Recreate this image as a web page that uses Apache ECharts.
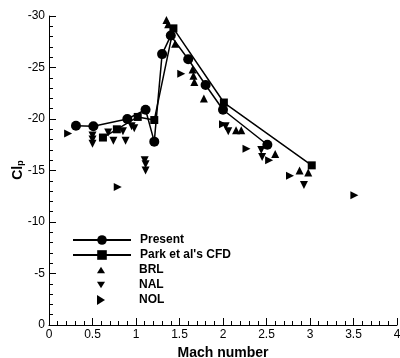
<!DOCTYPE html>
<html><head><meta charset="utf-8">
<script src="https://cdn.jsdelivr.net/npm/echarts@6/dist/echarts.min.js"></script>
<style>html,body{margin:0;padding:0;background:#fff}#c{width:400px;height:358px}</style>
</head><body><div id="c"></div>
<script>
var xTicks = [0, 0.5, 1, 1.5, 2, 2.5, 3, 3.5, 4];
var yTicks = [-30, -25, -20, -15, -10, -5, 0];
var presentX = [0.31, 0.51, 0.90, 1.11, 1.21, 1.30, 1.40, 1.60, 1.80, 2.00, 2.51];
var presentY = [-19.35, -19.3, -20.0, -20.9, -17.8, -26.3, -28.1, -25.8, -23.3, -20.9, -17.5];
var parkX = [0.62, 0.78, 1.02, 1.21, 1.43, 2.01, 3.02];
var parkY = [-18.2, -19.0, -20.2, -19.9, -28.8, -21.6, -15.5];
var brlX = [1.35, 1.37, 1.45, 1.65, 1.66, 1.67, 1.78, 2.15, 2.21, 2.60, 2.88, 2.98];
var brlY = [-29.6, -29.2, -27.3, -24.8, -24.2, -23.6, -22.0, -18.9, -18.9, -16.6, -15.0, -14.8];
var nalX = [0.50, 0.50, 0.50, 0.68, 0.74, 0.85, 0.88, 0.95, 0.98, 1.10, 1.11, 1.11, 2.03, 2.06, 2.44, 2.45, 2.93];
var nalY = [-18.4, -18.0, -17.6, -18.7, -17.9, -18.8, -17.9, -19.3, -19.1, -16.0, -15.6, -15.0, -19.3, -18.8, -17.0, -16.3, -13.6];
var nolX = [0.22, 0.79, 1.52, 2.00, 2.27, 2.53, 2.77, 3.51];
var nolY = [-18.6, -13.4, -24.4, -19.5, -17.1, -16.0, -14.5, -12.6];

function pairs(xs, ys) { return xs.map(function (x, i) { return [x, ys[i]]; }); }
var FONT = 'Liberation Sans, Arial, sans-serif';
var legendText = {fontFamily: FONT, fontWeight: 'bold', fontSize: 12, color: '#000'};
var black = {color: '#000', opacity: 1};
var chart = echarts.init(document.getElementById('c'), null, {renderer: 'canvas'});
chart.setOption({
  animation: false,
  backgroundColor: '#fff',
  grid: {left: 49, right: 3, top: 16, bottom: 33, outerBoundsMode: 'none', containLabel: false},
  graphic: [{
    type: 'text', x: 18, y: 170, rotation: Math.PI / 2,
    style: {
      text: '{a|Cl}{b|p}', align: 'center', verticalAlign: 'middle',
      rich: {
        a: {fontFamily: FONT, fontWeight: 'bold', fontSize: 14, fill: '#000', color: '#000'},
        b: {fontFamily: FONT, fontWeight: 'bold', fontSize: 9, fill: '#000', color: '#000', verticalAlign: 'bottom', padding: [6, 0, 0, 0]}
      }
    }
  }],
  legend: [{
    orient: 'vertical', left: 67, top: 229,
    itemWidth: 58, itemHeight: 12, itemGap: 3,
    textStyle: Object.assign({padding: [0, 0, 0, 4]}, legendText),
    data: ['Present', "Park et al's CFD"]
  }, {
    orient: 'vertical', left: 92, top: 259,
    itemWidth: 8, itemHeight: 12, itemGap: 3,
    itemStyle: black,
    textStyle: Object.assign({padding: [0, 0, 0, 29]}, legendText),
    data: [
      {name: 'BRL', icon: 'path://M5,0 L10,8 L0,8 Z', itemStyle: black},
      {name: 'NAL', icon: 'path://M0,0 L10,0 L5,8 Z', itemStyle: black},
      {name: 'NOL', icon: 'path://M0,0 L8,5 L0,10 Z', itemStyle: black}
    ]
  }],
  xAxis: {
    type: 'value', min: 0, max: 4, interval: 0.5,
    name: 'Mach number', nameLocation: 'middle', nameGap: 17,
    nameTextStyle: {fontFamily: FONT, fontWeight: 'bold', fontSize: 14, color: '#000'},
    axisLine: {lineStyle: {color: '#000', width: 1}},
    axisTick: {inside: true, length: 7, lineStyle: {color: '#000'}},
    minorTick: {show: true, splitNumber: 5, length: 4, lineStyle: {color: '#000'}},
    splitLine: {show: false},
    axisLabel: {fontFamily: FONT, fontSize: 12, color: '#000', margin: 4, hideOverlap: false,
      formatter: function (v) { return xTicks.indexOf(v) >= 0 ? String(v) : ''; }}
  },
  yAxis: {
    type: 'value', min: -30, max: 0, interval: 5, inverse: true,
    axisLine: {show: true, lineStyle: {color: '#000', width: 1}},
    axisTick: {show: true, inside: true, length: 7, lineStyle: {color: '#000'}},
    minorTick: {show: true, splitNumber: 5, length: 4, lineStyle: {color: '#000'}},
    splitLine: {show: false},
    axisLabel: {fontFamily: FONT, fontSize: 12, color: '#000', margin: 4,
      formatter: function (v) { return yTicks.indexOf(v) >= 0 ? String(v) : ''; }}
  },
  series: [
    {name: 'Present', type: 'line', data: pairs(presentX, presentY), symbol: 'circle', symbolSize: 10,
     itemStyle: black, lineStyle: {color: '#000', width: 1.5}},
    {name: "Park et al's CFD", type: 'line', data: pairs(parkX, parkY), symbol: 'rect', symbolSize: 8,
     itemStyle: black, lineStyle: {color: '#000', width: 1.5}},
    {name: 'BRL', type: 'scatter', data: pairs(brlX, brlY), symbol: 'triangle', symbolSize: 8,
     itemStyle: black},
    {name: 'NAL', type: 'scatter', data: pairs(nalX, nalY), symbol: 'triangle', symbolSize: 8, symbolRotate: 180,
     itemStyle: black},
    {name: 'NOL', type: 'scatter', data: pairs(nolX, nolY), symbol: 'triangle', symbolSize: 8, symbolRotate: -90,
     itemStyle: black}
  ]
});
</script></body></html>
